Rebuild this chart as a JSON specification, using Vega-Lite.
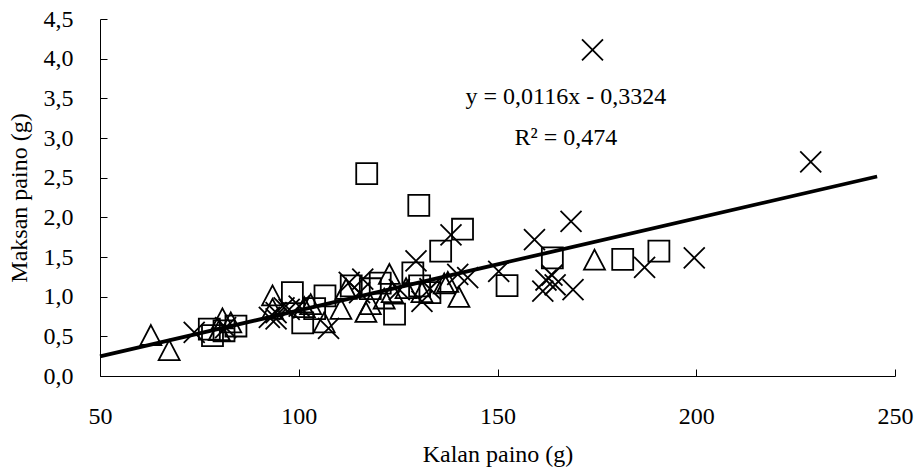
{
  "$schema": "https://vega.github.io/schema/vega-lite/v6.json",
  "width": 795,
  "height": 357,
  "autosize": "none",
  "padding": {"left": 100, "top": 19, "right": 23, "bottom": 99},
  "background": "white",
  "config": {
    "view": {"stroke": null},
    "font": "Liberation Serif",
    "axis": {
      "labelFont": "Liberation Serif",
      "titleFont": "Liberation Serif",
      "labelFontSize": 24,
      "titleFontSize": 24,
      "titleFontWeight": "normal",
      "labelColor": "#000",
      "titleColor": "#000",
      "domainColor": "#000",
      "tickColor": "#000",
      "grid": false,
      "tickSize": -7
    }
  },
  "datasets": {
    "pts": [
      {"kalan": 62.8, "maksa": 0.51, "ryhma": "A"},
      {"kalan": 67.4, "maksa": 0.32, "ryhma": "A"},
      {"kalan": 80.0, "maksa": 0.57, "ryhma": "A"},
      {"kalan": 80.8, "maksa": 0.72, "ryhma": "A"},
      {"kalan": 82.9, "maksa": 0.67, "ryhma": "A"},
      {"kalan": 93.4, "maksa": 1.01, "ryhma": "A"},
      {"kalan": 93.4, "maksa": 0.84, "ryhma": "A"},
      {"kalan": 101.4, "maksa": 0.86, "ryhma": "A"},
      {"kalan": 103.0, "maksa": 0.90, "ryhma": "A"},
      {"kalan": 106.4, "maksa": 0.67, "ryhma": "A"},
      {"kalan": 110.6, "maksa": 0.84, "ryhma": "A"},
      {"kalan": 111.9, "maksa": 1.09, "ryhma": "A"},
      {"kalan": 116.9, "maksa": 0.80, "ryhma": "A"},
      {"kalan": 118.0, "maksa": 0.90, "ryhma": "A"},
      {"kalan": 121.5, "maksa": 0.97, "ryhma": "A"},
      {"kalan": 122.8, "maksa": 1.28, "ryhma": "A"},
      {"kalan": 123.5, "maksa": 1.05, "ryhma": "A"},
      {"kalan": 127.0, "maksa": 1.10, "ryhma": "A"},
      {"kalan": 131.0, "maksa": 1.05, "ryhma": "A"},
      {"kalan": 136.6, "maksa": 1.16, "ryhma": "A"},
      {"kalan": 137.5, "maksa": 1.18, "ryhma": "A"},
      {"kalan": 140.3, "maksa": 0.99, "ryhma": "A"},
      {"kalan": 174.4, "maksa": 1.46, "ryhma": "A"},
      {"kalan": 77.5, "maksa": 0.59, "ryhma": "B"},
      {"kalan": 78.3, "maksa": 0.51, "ryhma": "B"},
      {"kalan": 81.2, "maksa": 0.57, "ryhma": "B"},
      {"kalan": 84.2, "maksa": 0.63, "ryhma": "B"},
      {"kalan": 98.4, "maksa": 1.05, "ryhma": "B"},
      {"kalan": 101.0, "maksa": 0.67, "ryhma": "B"},
      {"kalan": 104.0, "maksa": 0.85, "ryhma": "B"},
      {"kalan": 106.6, "maksa": 1.01, "ryhma": "B"},
      {"kalan": 113.2, "maksa": 1.135, "ryhma": "B"},
      {"kalan": 117.1, "maksa": 2.55, "ryhma": "B"},
      {"kalan": 118.0, "maksa": 1.10, "ryhma": "B"},
      {"kalan": 120.5, "maksa": 1.17, "ryhma": "B"},
      {"kalan": 124.1, "maksa": 0.78, "ryhma": "B"},
      {"kalan": 128.7, "maksa": 1.30, "ryhma": "B"},
      {"kalan": 130.4, "maksa": 1.135, "ryhma": "B"},
      {"kalan": 130.2, "maksa": 2.15, "ryhma": "B"},
      {"kalan": 133.0, "maksa": 1.05, "ryhma": "B"},
      {"kalan": 135.7, "maksa": 1.575, "ryhma": "B"},
      {"kalan": 141.2, "maksa": 1.85, "ryhma": "B"},
      {"kalan": 152.4, "maksa": 1.14, "ryhma": "B"},
      {"kalan": 163.8, "maksa": 1.49, "ryhma": "B"},
      {"kalan": 181.5, "maksa": 1.47, "ryhma": "B"},
      {"kalan": 190.6, "maksa": 1.575, "ryhma": "B"},
      {"kalan": 73.7, "maksa": 0.55, "ryhma": "C"},
      {"kalan": 81.6, "maksa": 0.61, "ryhma": "C"},
      {"kalan": 92.6, "maksa": 0.74, "ryhma": "C"},
      {"kalan": 94.3, "maksa": 0.80, "ryhma": "C"},
      {"kalan": 94.3, "maksa": 0.72, "ryhma": "C"},
      {"kalan": 96.3, "maksa": 0.86, "ryhma": "C"},
      {"kalan": 97.6, "maksa": 0.84, "ryhma": "C"},
      {"kalan": 100.1, "maksa": 0.88, "ryhma": "C"},
      {"kalan": 107.5, "maksa": 0.60, "ryhma": "C"},
      {"kalan": 112.7, "maksa": 1.18, "ryhma": "C"},
      {"kalan": 115.3, "maksa": 1.05, "ryhma": "C"},
      {"kalan": 116.1, "maksa": 1.22, "ryhma": "C"},
      {"kalan": 125.3, "maksa": 1.09, "ryhma": "C"},
      {"kalan": 129.5, "maksa": 1.45, "ryhma": "C"},
      {"kalan": 131.0, "maksa": 0.94, "ryhma": "C"},
      {"kalan": 133.0, "maksa": 1.10, "ryhma": "C"},
      {"kalan": 138.3, "maksa": 1.78, "ryhma": "C"},
      {"kalan": 140.0, "maksa": 1.28, "ryhma": "C"},
      {"kalan": 142.5, "maksa": 1.24, "ryhma": "C"},
      {"kalan": 150.3, "maksa": 1.32, "ryhma": "C"},
      {"kalan": 159.3, "maksa": 1.72, "ryhma": "C"},
      {"kalan": 161.4, "maksa": 1.07, "ryhma": "C"},
      {"kalan": 162.2, "maksa": 1.21, "ryhma": "C"},
      {"kalan": 163.7, "maksa": 1.27, "ryhma": "C"},
      {"kalan": 164.5, "maksa": 1.15, "ryhma": "C"},
      {"kalan": 168.5, "maksa": 1.95, "ryhma": "C"},
      {"kalan": 169.0, "maksa": 1.09, "ryhma": "C"},
      {"kalan": 173.9, "maksa": 4.11, "ryhma": "C"},
      {"kalan": 187.0, "maksa": 1.37, "ryhma": "C"},
      {"kalan": 199.5, "maksa": 1.49, "ryhma": "C"},
      {"kalan": 228.8, "maksa": 2.70, "ryhma": "C"}
    ],
    "trend": [
      {"kalan": 50, "maksa": 0.248},
      {"kalan": 245.5, "maksa": 2.515}
    ],
    "labels": [
      {"kalan": 167.2, "maksa": 3.52, "teksti": "y = 0,0116x - 0,3324"},
      {"kalan": 167.2, "maksa": 3.0, "teksti": "R² = 0,474"}
    ]
  },
  "encoding": {
    "x": {
      "field": "kalan", "type": "quantitative",
      "scale": {"domain": [50, 250], "nice": false, "zero": false},
      "axis": {"title": "Kalan paino (g)", "values": [50, 100, 150, 200, 250], "format": "d", "labelPadding": 35, "titlePadding": 14, "labelFlush": false}
    },
    "y": {
      "field": "maksa", "type": "quantitative",
      "scale": {"domain": [0, 4.5], "nice": false},
      "axis": {"title": "Maksan paino (g)", "values": [0, 0.5, 1, 1.5, 2, 2.5, 3, 3.5, 4, 4.5], "labelExpr": "replace(format(datum.value, '.1f'), '.', ',')", "labelPadding": 34, "titlePadding": 12, "labelFlush": false}
    }
  },
  "layer": [
    {
      "data": {"name": "pts"},
      "mark": {"type": "point", "filled": false, "color": "#000", "strokeWidth": 1.8, "size": 440, "opacity": 1},
      "encoding": {
        "shape": {
          "field": "ryhma", "type": "nominal",
          "scale": {"domain": ["A", "B", "C"], "range": ["M0,-1L1,0.9L-1,0.9Z", "square", "M-1,-1L1,1M-1,1L1,-1"]},
          "legend": null
        }
      }
    },
    {
      "data": {"name": "trend"},
      "mark": {"type": "line", "color": "#000", "strokeWidth": 3.8},
      "encoding": {}
    },
    {
      "data": {"name": "labels"},
      "mark": {"type": "text", "font": "Liberation Serif", "fontSize": 24, "color": "#000", "align": "center", "baseline": "middle"},
      "encoding": {"text": {"field": "teksti"}}
    }
  ]
}
